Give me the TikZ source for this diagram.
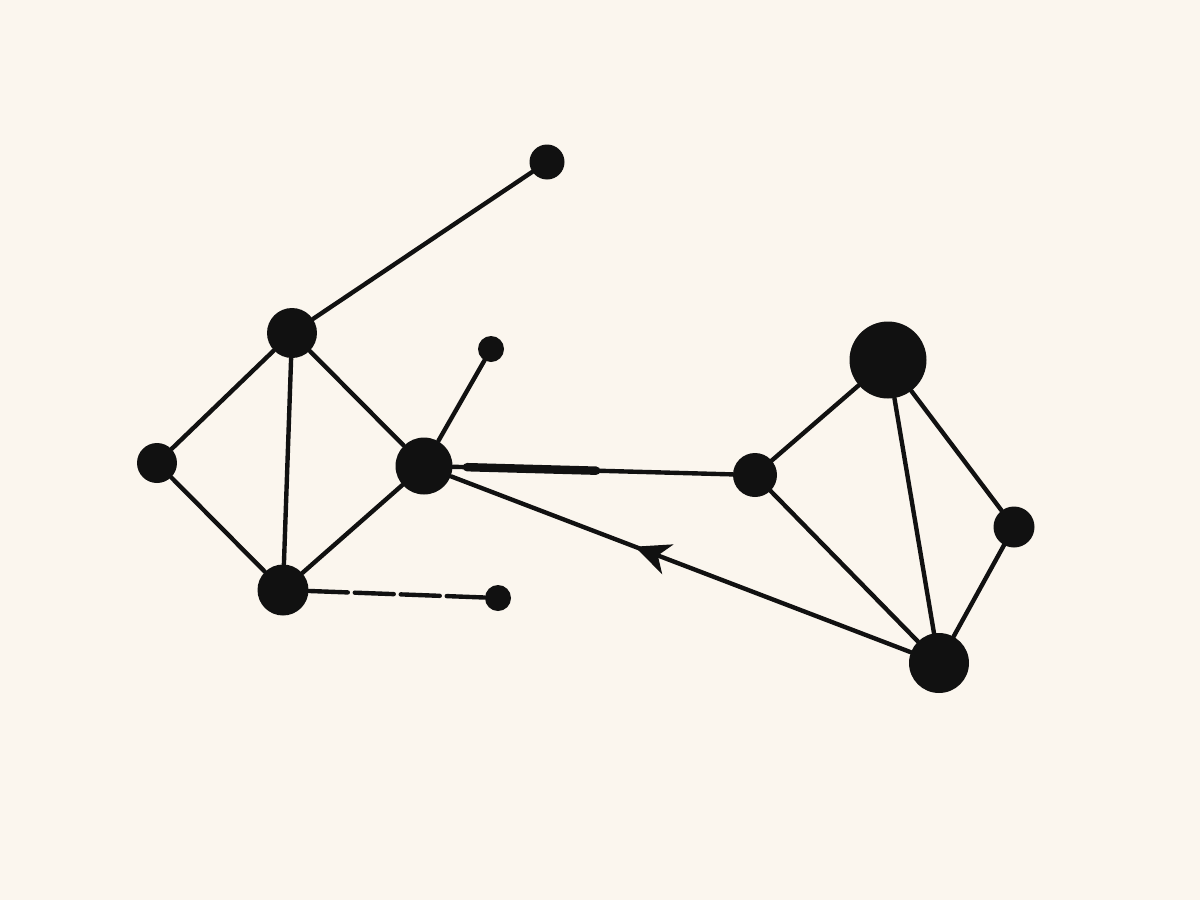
\documentclass[tikz,border=0pt]{standalone}
\usetikzlibrary{arrows.meta,decorations.markings,calc}
\definecolor{paper}{HTML}{FBF6EE}
\definecolor{ink}{HTML}{111111}

\begin{document}
\begin{tikzpicture}
  [x=0.02cm,y=-0.02cm,
   every node/.style={circle,fill=ink,inner sep=0pt},
   edge/.style={draw=ink,line width=2.5pt,line cap=round},
   arrowmid/.style={postaction={decorate},decoration={markings,
     mark=at position #1 with {\arrow{Stealth[length=20pt,width=18pt,inset=6pt]}}}}]
  \fill[paper] (0,0) rectangle (1200,900);
  \useasboundingbox (0,0) rectangle (1200,900);

  \node[minimum size=1.0cm]  (n1) at (292,333) {};
  \node[minimum size=0.8cm]  (n2) at (157,463) {};
  \node[minimum size=1.14cm] (n3) at (424,466) {};
  \node[minimum size=1.02cm] (n4) at (283,590) {};
  \node[minimum size=0.7cm]  (n5) at (547,162) {};
  \node[minimum size=0.52cm] (n6) at (491,349) {};
  \node[minimum size=0.52cm] (n7) at (498,598) {};
  \node[minimum size=0.88cm] (n8) at (755,475) {};
  \node[minimum size=1.54cm] (n9) at (888,360) {};
  \node[minimum size=0.82cm] (n10) at (1014,527) {};
  \node[minimum size=1.2cm]  (n11) at (939,663) {};

  \foreach \from/\to in {n1/n5,n1/n2,n1/n3,n1/n4,n2/n4,n4/n3,n3/n6,
                         n3/n8,n8/n9,n9/n11,n9/n10,n10/n11,n8/n11}
    \draw[edge] (\from) -- (\to);

  % heavy stroke on the middle link
  \draw[edge,line width=4.8pt] ($(n3)!0.13!(n8)$) -- ($(n3)!0.52!(n8)$);

  % dashed spur
  \draw[edge,dash pattern=on 0.78cm off 0.14cm] (n4) -- (n7);

  % return link with arrow
  \draw[edge,arrowmid=0.6] (n11) -- (n3);
\end{tikzpicture}
\end{document}
